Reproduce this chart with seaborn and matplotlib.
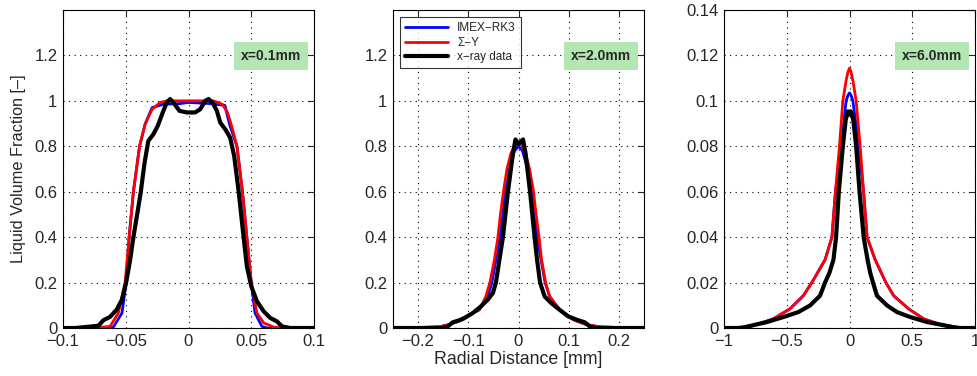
"""Liquid volume fraction profiles at three axial positions:
IMEX-RK3 and Sigma-Y simulations against x-ray data.
"""

import pandas as pd
import seaborn as sns
import matplotlib.pyplot as plt
from matplotlib.ticker import FixedLocator

# ---- panel 1: x = 0.1 mm ----
p1_blue_r = [-0.1, -0.08, -0.0625, -0.06, -0.053, -0.0497, -0.0473, -0.0439, -0.039, -0.0346,
             -0.029, -0.02, -0.0066, 0.0, 0.017, 0.029, 0.0327, 0.0386, 0.043, 0.0465,
             0.05, 0.053, 0.0585, 0.0625, 0.08, 0.1]
p1_blue_v = [0.0, 0.0, 0.0, 0.003, 0.066, 0.2, 0.4, 0.6, 0.8, 0.897,
             0.97, 0.985, 0.988, 0.993, 0.988, 0.98, 0.897, 0.8, 0.6, 0.4,
             0.2, 0.066, 0.007, 0.0, 0.0, 0.0]
p1_red_r = [-0.1, -0.089, -0.07, -0.0625, -0.0559, -0.0505, -0.0473, -0.0439, -0.039, -0.0346,
            -0.029, -0.0226, -0.017, 0.0, 0.020, 0.027, 0.031, 0.034, 0.0386, 0.043,
            0.0465, 0.05, 0.0545, 0.06, 0.068, 0.073, 0.09, 0.1]
p1_red_v = [0.0, 0.0, 0.003, 0.007, 0.066, 0.2, 0.4, 0.6, 0.8, 0.897,
            0.963, 0.993, 1.0, 1.0, 1.0, 0.985, 0.95, 0.897, 0.8, 0.6,
            0.4, 0.2, 0.066, 0.022, 0.004, 0.0, 0.0, 0.0]
p1_xray_r = [-0.1, -0.09, -0.0718, -0.0678, -0.0625, -0.0572, -0.053, -0.0497, -0.0465, -0.0439,
             -0.0407, -0.038, -0.035, -0.032, -0.028, -0.0245, -0.0205, -0.0173, -0.0146, -0.011,
             -0.0072, -0.0013, 0.0053, 0.0093, 0.0133, 0.016, 0.0194, 0.0226, 0.0253, 0.0293,
             0.0332, 0.0364, 0.04, 0.0439, 0.0465, 0.05, 0.0545, 0.0598, 0.0652, 0.0705,
             0.0745, 0.081, 0.1]
p1_xray_v = [0.0, 0.0, 0.01, 0.034, 0.049, 0.081, 0.125, 0.2, 0.3, 0.4,
             0.507, 0.6, 0.728, 0.824, 0.853, 0.89, 0.949, 0.993, 1.008, 0.985,
             0.956, 0.949, 0.949, 0.963, 1.0, 1.008, 0.99, 0.956, 0.904, 0.875,
             0.838, 0.757, 0.6, 0.4, 0.272, 0.184, 0.118, 0.074, 0.044, 0.029,
             0.007, 0.0, 0.0]

# ---- panel 2: x = 2.0 mm ----
p2_blue_r = [-0.25, -0.2, -0.158, -0.138, -0.111, -0.091, -0.078, -0.061, -0.053, -0.045,
             -0.037, -0.031, -0.026, -0.018, -0.008, 0.0, 0.008, 0.018, 0.027, 0.032,
             0.037, 0.045, 0.053, 0.062, 0.082, 0.109, 0.135, 0.162, 0.2, 0.25]
p2_blue_v = [0.0, 0.002, 0.005, 0.015, 0.037, 0.066, 0.08, 0.139, 0.2, 0.3,
             0.4, 0.5, 0.6, 0.7, 0.78, 0.80, 0.78, 0.7, 0.6, 0.5,
             0.4, 0.3, 0.2, 0.139, 0.08, 0.037, 0.015, 0.005, 0.002, 0.0]
p2_red_r = [-0.25, -0.2, -0.158, -0.138, -0.111, -0.091, -0.078, -0.065, -0.057, -0.048,
            -0.041, -0.036, -0.030, -0.023, -0.015, -0.005, 0.0, 0.005, 0.014, 0.022,
            0.030, 0.035, 0.041, 0.046, 0.054, 0.062, 0.082, 0.109, 0.135, 0.162,
            0.2, 0.25]
p2_red_v = [0.0, 0.002, 0.005, 0.015, 0.037, 0.066, 0.08, 0.139, 0.2, 0.3,
            0.4, 0.5, 0.6, 0.7, 0.77, 0.81, 0.815, 0.81, 0.77, 0.7,
            0.6, 0.5, 0.4, 0.3, 0.2, 0.139, 0.08, 0.037, 0.015, 0.005,
            0.002, 0.0]
p2_xray_r = [-0.25, -0.16, -0.151, -0.141, -0.131, -0.118, -0.108, -0.091, -0.075, -0.061,
             -0.051, -0.045, -0.038, -0.031, -0.021, -0.011, -0.006, 0.0, 0.009, 0.014,
             0.023, 0.032, 0.037, 0.043, 0.052, 0.065, 0.082, 0.099, 0.119, 0.132,
             0.142, 0.152, 0.16, 0.25]
p2_xray_v = [0.0, 0.0, 0.0, 0.007, 0.025, 0.034, 0.044, 0.066, 0.095, 0.125,
             0.154, 0.2, 0.3, 0.4, 0.6, 0.77, 0.83, 0.81, 0.83, 0.77,
             0.6, 0.4, 0.3, 0.2, 0.139, 0.11, 0.08, 0.051, 0.034, 0.025,
             0.007, 0.0, 0.0, 0.0]

# ---- panel 3: x = 6.0 mm ----
p3_blue_r = [-1.0, -0.91, -0.74, -0.608, -0.475, -0.368, -0.30, -0.195, -0.14, -0.112,
             -0.066, -0.027, -0.012, 0.0, 0.012, 0.027, 0.074, 0.112, 0.14, 0.205,
             0.29, 0.352, 0.472, 0.592, 0.725, 0.91, 1.0]
p3_blue_v = [0.0, 0.0, 0.0015, 0.004, 0.0084, 0.0142, 0.02, 0.03, 0.04, 0.06,
             0.08, 0.1, 0.1025, 0.1035, 0.1025, 0.1, 0.08, 0.06, 0.04, 0.03,
             0.02, 0.0142, 0.0084, 0.004, 0.0015, 0.0, 0.0]
p3_red_r = [-1.0, -0.91, -0.74, -0.608, -0.475, -0.368, -0.30, -0.195, -0.14, -0.112,
            -0.08, -0.053, -0.027, -0.012, 0.0, 0.012, 0.027, 0.053, 0.085, 0.112,
            0.14, 0.205, 0.29, 0.352, 0.472, 0.592, 0.725, 0.91, 1.0]
p3_red_v = [0.0, 0.0, 0.0015, 0.004, 0.0084, 0.0142, 0.02, 0.03, 0.04, 0.06,
            0.08, 0.1, 0.109, 0.1128, 0.1144, 0.1128, 0.109, 0.1, 0.08, 0.06,
            0.04, 0.03, 0.02, 0.0142, 0.0084, 0.004, 0.0015, 0.0, 0.0]
p3_xray_r = [-1.0, -0.85, -0.77, -0.66, -0.528, -0.408, -0.315, -0.235, -0.195, -0.16,
             -0.128, -0.107, -0.085, -0.053, -0.03, -0.012, 0.0, 0.01, 0.03, 0.053,
             0.08, 0.113, 0.144, 0.165, 0.187, 0.219, 0.3, 0.379, 0.485, 0.62,
             0.752, 0.85, 1.0]
p3_xray_v = [0.0, 0.0, 0.0012, 0.0026, 0.0048, 0.007, 0.0099, 0.0142, 0.02, 0.0243,
             0.03, 0.04, 0.06, 0.08, 0.0917, 0.0954, 0.094, 0.0954, 0.0917, 0.08,
             0.06, 0.04, 0.03, 0.0243, 0.02, 0.0142, 0.0099, 0.007, 0.0048, 0.0026,
             0.0012, 0.0, 0.0]

panel_labels = ["x=0.1mm", "x=2.0mm", "x=6.0mm"]
series_names = ["IMEX\u2212RK3", "\u03a3\u2212Y", "x\u2212ray data"]

xlims = [(-0.1, 0.1), (-0.25, 0.25), (-1.0, 1.0)]
xticks = [[-0.1, -0.05, 0, 0.05, 0.1],
          [-0.2, -0.1, 0, 0.1, 0.2],
          [-1, -0.5, 0, 0.5, 1]]
xticklabels = [["\u22120.1", "\u22120.05", "0", "0.05", "0.1"],
               ["\u22120.2", "\u22120.1", "0", "0.1", "0.2"],
               ["\u22121", "\u22120.5", "0", "0.5", "1"]]
ylims = [(0, 1.4), (0, 1.4), (0, 0.14)]
yticks = [[0, 0.2, 0.4, 0.6, 0.8, 1.0, 1.2],
          [0, 0.2, 0.4, 0.6, 0.8, 1.0, 1.2],
          [0, 0.02, 0.04, 0.06, 0.08, 0.1, 0.12, 0.14]]
yticklabels = [["0", "0.2", "0.4", "0.6", "0.8", "1", "1.2"],
               ["0", "0.2", "0.4", "0.6", "0.8", "1", "1.2"],
               ["0", "0.02", "0.04", "0.06", "0.08", "0.1", "0.12", "0.14"]]

panels = [
    [(p1_blue_r, p1_blue_v), (p1_red_r, p1_red_v), (p1_xray_r, p1_xray_v)],
    [(p2_blue_r, p2_blue_v), (p2_red_r, p2_red_v), (p2_xray_r, p2_xray_v)],
    [(p3_blue_r, p3_blue_v), (p3_red_r, p3_red_v), (p3_xray_r, p3_xray_v)],
]

COLORS = ["#0000ff", "#ff0000", "#000000"]
WIDTHS = [2.0, 2.0, 3.0]

sns.set_style("white")
plt.rcParams["font.family"] = ["Liberation Sans", "DejaVu Sans"]
plt.rcParams["font.size"] = 12

fig = plt.figure(figsize=(9.77, 3.76), dpi=100)
W, H = 977, 376
lefts = [63, 393, 724]
for i, (left, series) in enumerate(zip(lefts, panels)):
    ax = fig.add_axes([left / W, (H - 328) / H, 251 / W, 318 / H])
    for (r, v), name, c, lw in zip(series, series_names, COLORS, WIDTHS):
        df = pd.DataFrame({"r": r, "v": v})
        sns.lineplot(data=df, x="r", y="v", ax=ax, color=c, linewidth=lw,
                     label=name, estimator=None, sort=True,
                     solid_joinstyle="round", solid_capstyle="round")
    ax.set_xlim(*xlims[i])
    ax.set_ylim(*ylims[i])
    ax.xaxis.set_major_locator(FixedLocator(xticks[i]))
    ax.yaxis.set_major_locator(FixedLocator(yticks[i]))
    ax.set_xticklabels(xticklabels[i])
    ax.set_yticklabels(yticklabels[i])
    ax.grid(True, color="black", linestyle=(0, (1, 4)), linewidth=0.8)
    ax.tick_params(direction="in", top=True, right=True, length=4,
                   width=0.8, labelsize=12, pad=4)
    for s in ax.spines.values():
        s.set_color("black")
        s.set_linewidth(0.8)
    ax.set_xlabel("")
    ax.set_ylabel("")
    ax.text(0.83, 0.855, panel_labels[i], transform=ax.transAxes,
            ha="center", va="center", fontsize=10, fontweight="bold",
            bbox=dict(facecolor="#b3e6b3", edgecolor="none", pad=5))
    if i == 1:
        ax.set_xlabel("Radial Distance [mm]", fontsize=12.8, labelpad=2)
        leg = ax.legend(loc="upper left", fontsize=8.5, frameon=True, fancybox=False,
                        borderaxespad=0.6, handlelength=3.6, labelspacing=0.2,
                        borderpad=0.45)
        leg.get_frame().set_edgecolor("black")
        leg.get_frame().set_linewidth(0.8)
    else:
        ax.get_legend().remove()
    if i == 0:
        ax.set_ylabel("Liquid Volume Fraction [\u2013]", fontsize=11.7, labelpad=6)

fig.savefig("out.png", dpi=100)
